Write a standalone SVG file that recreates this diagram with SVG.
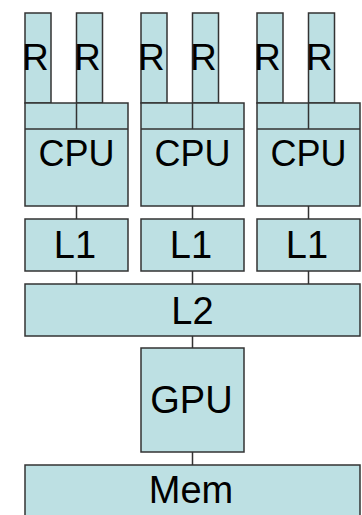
<svg xmlns="http://www.w3.org/2000/svg" width="362" height="515" viewBox="0 0 362 515">
<style>
.b{fill:#bde0e3;stroke:#333;stroke-width:1.5}
.t{font-family:"Liberation Sans",Arial,sans-serif;fill:#000;font-size:38px;text-anchor:middle}
.r{font-family:"Liberation Sans",Arial,sans-serif;fill:#000;font-size:37px}
.c{stroke:#333;stroke-width:1.5;fill:none}
</style>
<rect width="362" height="515" fill="#fff"/>
<g id="cpu1">
<rect class="b" x="25" y="13" width="26" height="90"/>
<rect class="b" x="76.5" y="13" width="26" height="90"/>
<text class="r" x="22" y="70">R</text>
<text class="r" x="74" y="70">R</text>
<rect class="b" x="25" y="103" width="103" height="103"/>
<path class="c" d="M25 129H128M76.5 103V129"/>
<text class="t" x="76.5" y="166" style="font-size:36px">CPU</text>
</g>
<g id="cpu2">
<rect class="b" x="141" y="13" width="26" height="90"/>
<rect class="b" x="192.5" y="13" width="26" height="90"/>
<text class="r" x="138" y="70">R</text>
<text class="r" x="190" y="70">R</text>
<rect class="b" x="141" y="103" width="103" height="103"/>
<path class="c" d="M141 129H244M192.5 103V129"/>
<text class="t" x="192.5" y="166" style="font-size:36px">CPU</text>
</g>
<g id="cpu3">
<rect class="b" x="257" y="13" width="26" height="90"/>
<rect class="b" x="308.5" y="13" width="26" height="90"/>
<text class="r" x="254" y="70">R</text>
<text class="r" x="306" y="70">R</text>
<rect class="b" x="257" y="103" width="103" height="103"/>
<path class="c" d="M257 129H360M308.5 103V129"/>
<text class="t" x="308.5" y="166" style="font-size:36px">CPU</text>
</g>
<g id="l1a"><rect class="b" x="25" y="219" width="103" height="52"/><text class="t" x="75" y="258">L1</text></g>
<g id="l1b"><rect class="b" x="141" y="219" width="103" height="52"/><text class="t" x="191" y="258">L1</text></g>
<g id="l1c"><rect class="b" x="257" y="219" width="103" height="52"/><text class="t" x="307" y="258">L1</text></g>
<g id="l2"><rect class="b" x="25" y="284" width="335" height="52"/><text class="t" x="192.5" y="324">L2</text></g>
<g id="gpu"><rect class="b" x="141" y="348" width="103" height="104"/><text class="t" x="191.5" y="412.5">GPU</text></g>
<g id="mem"><rect class="b" x="25" y="465" width="335" height="60"/><text class="t" x="191" y="503">Mem</text></g>
<g id="connectors">
<path class="c" d="M76.5 206V219M192.5 206V219M308.5 206V219M76.5 271V284M192.5 271V284M308.5 271V284M192.5 336V348M192.5 452V465"/>
</g>
</svg>
